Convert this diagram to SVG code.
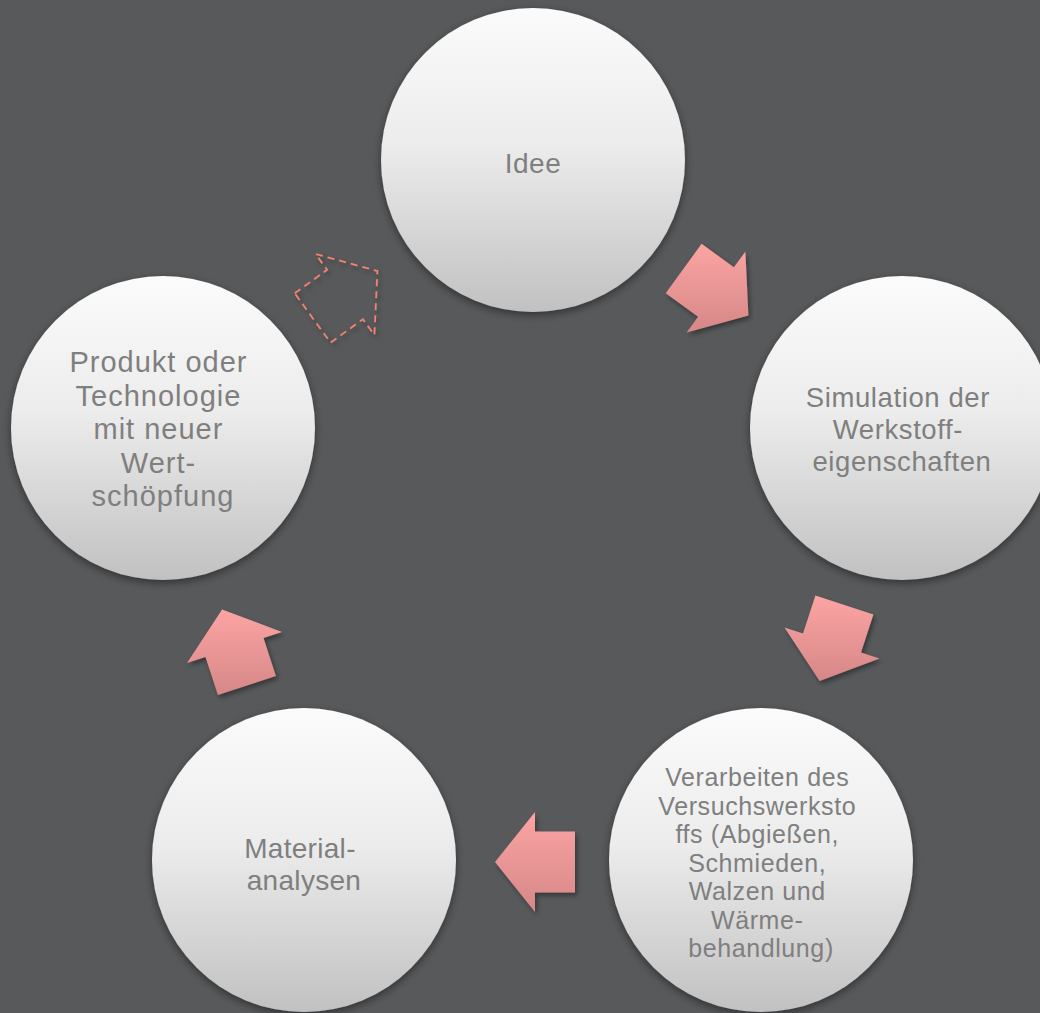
<svg xmlns="http://www.w3.org/2000/svg" width="1040" height="1013" viewBox="0 0 1040 1013">
  <defs>
    <linearGradient id="ballFill" x1="0" y1="0" x2="0" y2="1">
      <stop offset="0" stop-color="#fbfbfb"/>
      <stop offset="0.45" stop-color="#ececec"/>
      <stop offset="1" stop-color="#c1c1c1"/>
    </linearGradient>
    <linearGradient id="arrowFill" x1="0" y1="0" x2="0" y2="1">
      <stop offset="0" stop-color="#fca4a4"/>
      <stop offset="1" stop-color="#d68787"/>
    </linearGradient>
    <filter id="ballShadow" x="-20%" y="-20%" width="140%" height="140%">
      <feDropShadow dx="0" dy="3" stdDeviation="4" flood-color="#000" flood-opacity="0.45"/>
    </filter>
    <filter id="arrowShadow" x="-30%" y="-30%" width="160%" height="160%">
      <feDropShadow dx="2" dy="3" stdDeviation="2.5" flood-color="#000" flood-opacity="0.4"/>
    </filter>
  </defs>
  <style>
    .ball { fill: url(#ballFill); filter: url(#ballShadow); }
    .label { font-family: "Liberation Sans", Arial, Helvetica, sans-serif; fill: #7f7f7f; text-anchor: middle; }
    .arrow { fill: url(#arrowFill); filter: url(#arrowShadow); }
    .arrow-open { fill: none; stroke: #f4826f; stroke-width: 1.8; stroke-dasharray: 7 5; filter: url(#arrowShadow); }
  </style>

  <rect width="1040" height="1013" fill="#58595b"/>

  <!-- cycle arrows between the stages -->
  <g id="connectors">
    <polygon class="arrow" points="701.6,243.8 733.9,267.3 745.4,251.5 748.4,315.5 686.6,332.5 698.1,316.7 665.7,293.2"/>
    <polygon class="arrow" points="873.4,614.4 861.0,652.5 879.5,658.5 819.6,681.0 784.5,627.5 803.0,633.5 815.4,595.5"/>
    <polygon class="arrow" points="575,892.5 535,892.5 535,912 495,862 535,812 535,831.5 575,831.5"/>
    <polygon class="arrow" points="217.9,695.0 205.5,657.0 187.0,663.0 222.1,609.5 282.0,632.0 263.5,638.0 275.9,676.1"/>
    <polygon class="arrow-open" points="294.7,293.3 327.1,269.8 315.6,254.0 377.4,271.0 374.4,335.0 362.9,319.2 330.6,342.7"/>
  </g>

  <g id="node-idee">
    <circle class="ball" cx="533" cy="160" r="152"/>
    <text class="label" x="533" y="173" font-size="28" letter-spacing="0.5">Idee</text>
  </g>

  <g id="node-simulation">
    <circle class="ball" cx="902" cy="428" r="152"/>
    <text class="label" font-size="27.5" letter-spacing="0.6">
      <tspan x="902" y="407">Simulation der</tspan>
      <tspan x="902" y="439">Werkstoff-</tspan>
      <tspan x="902" y="471">eigenschaften</tspan>
    </text>
  </g>

  <g id="node-verarbeiten">
    <circle class="ball" cx="761" cy="860" r="152"/>
    <text class="label" font-size="25" letter-spacing="0.6">
      <tspan x="761" y="786">Verarbeiten des</tspan>
      <tspan x="761" y="814.5">Versuchswerksto</tspan>
      <tspan x="761" y="843">ffs (Abgießen,</tspan>
      <tspan x="761" y="871.5">Schmieden,</tspan>
      <tspan x="761" y="900">Walzen und</tspan>
      <tspan x="761" y="928.5">Wärme-</tspan>
      <tspan x="761" y="957">behandlung)</tspan>
    </text>
  </g>

  <g id="node-material">
    <circle class="ball" cx="304" cy="860" r="152"/>
    <text class="label" font-size="28" letter-spacing="0.3">
      <tspan x="304" y="858">Material-</tspan>
      <tspan x="304" y="890">analysen</tspan>
    </text>
  </g>

  <g id="node-produkt">
    <circle class="ball" cx="163" cy="428" r="152"/>
    <text class="label" font-size="29" letter-spacing="1">
      <tspan x="163" y="372">Produkt oder</tspan>
      <tspan x="163" y="405.5">Technologie</tspan>
      <tspan x="163" y="439">mit neuer</tspan>
      <tspan x="163" y="472.5">Wert-</tspan>
      <tspan x="163" y="506">schöpfung</tspan>
    </text>
  </g>
</svg>
